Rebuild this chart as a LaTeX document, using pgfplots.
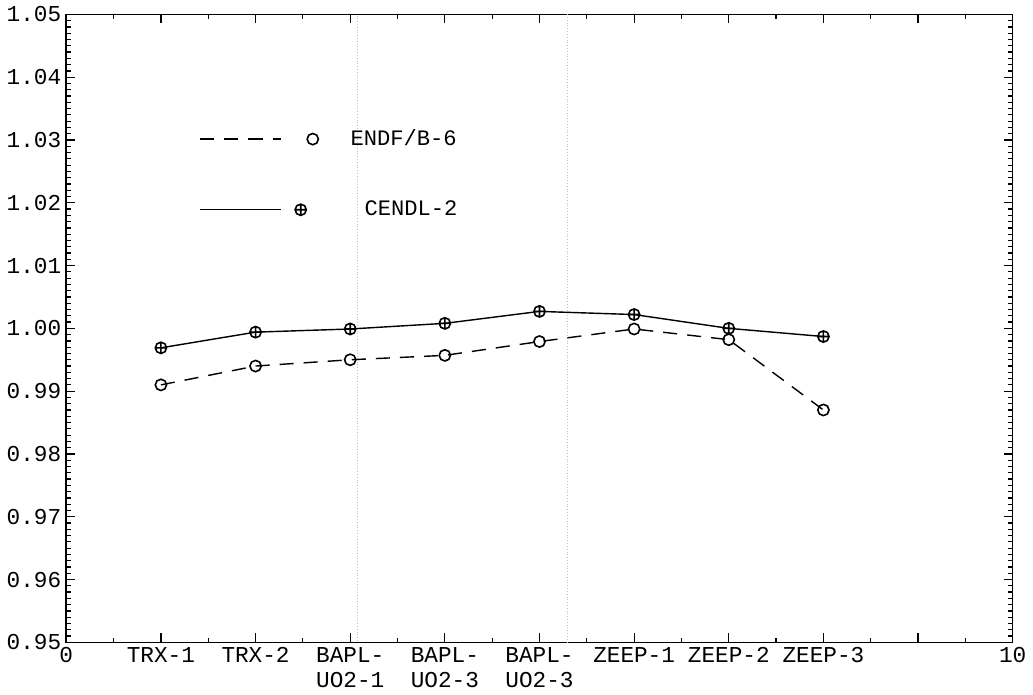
\documentclass[border=0pt]{standalone}
\usepackage{fontspec}
\setmainfont{Liberation Mono}
\usepackage{pgfplots}
\pgfplotsset{compat=1.18}
\pgfplotsset{
  legimg/.style={legend image code/.code={
    \draw[##1, mark=none] (0pt,0pt) -- (40pt,0pt);
    \draw[##1, only marks] plot coordinates {(#1,0pt)};
  }},
}
\begin{document}
\begin{tikzpicture}
\begin{axis}[
  scale only axis,
  width=471pt, height=312.5pt,
  xmin=0, xmax=10, ymin=0.95, ymax=1.05,
  xtick={0,1,2,3,4,5,6,7,8,9,10},
  xticklabels={0,TRX-1,TRX-2,{BAPL-\\UO2-1},{BAPL-\\UO2-3},{BAPL-\\UO2-3},ZEEP-1,ZEEP-2,ZEEP-3,,10},
  ytick={0.95,0.96,0.97,0.98,0.99,1.00,1.01,1.02,1.03,1.04,1.05},
  minor x tick num=1,
  minor y tick num=9,
  tick align=inside,
  tickwidth=4.5pt, subtickwidth=2.2pt,
  tick style={black, line width=0.6pt},
  axis line style={line width=0.8pt},
  /pgf/number format/assume math mode=true,
  yticklabel={\pgfmathprintnumber[fixed,fixed zerofill,precision=2]{\tick}},
  tick label style={font=\fontsize{11.3}{12.5}\selectfont},
  xticklabel style={align=center, yshift=1pt},
  yticklabel style={xshift=1pt},
  legend cell align=left,
  legend style={draw=none, fill=none, at={(rel axis cs:0.134,0.83)}, anchor=north west,
    font=\fontsize{11}{12.5}\selectfont, row sep=22pt},
]
\draw[gray!50, densely dotted, line width=0.4pt] (axis cs:3.08,0.948) -- (axis cs:3.08,1.05);
\draw[gray!50, densely dotted, line width=0.4pt] (axis cs:5.3,0.95) -- (axis cs:5.3,1.05);
\addplot[black, line width=0.7pt, dash pattern=on 7pt off 5pt, mark=o, mark size=2.8pt,
  mark options={solid, line width=0.8pt}, legimg=56pt] coordinates {
  (1,0.9910) (2,0.9940) (3,0.9950) (4,0.9957) (5,0.9979) (6,0.9999) (7,0.9982) (8,0.9870)
};
\addlegendentry{\hspace{14pt}ENDF/B-6}
\addplot[black, line width=0.7pt, mark=oplus, mark size=2.8pt,
  mark options={solid, line width=0.8pt}, legimg=50pt] coordinates {
  (1,0.9969) (2,0.9994) (3,0.9999) (4,1.0008) (5,1.0027) (6,1.0022) (7,1.0000) (8,0.9987)
};
\addlegendentry{\hspace{21pt}CENDL-2}
\end{axis}
\end{tikzpicture}
\end{document}
